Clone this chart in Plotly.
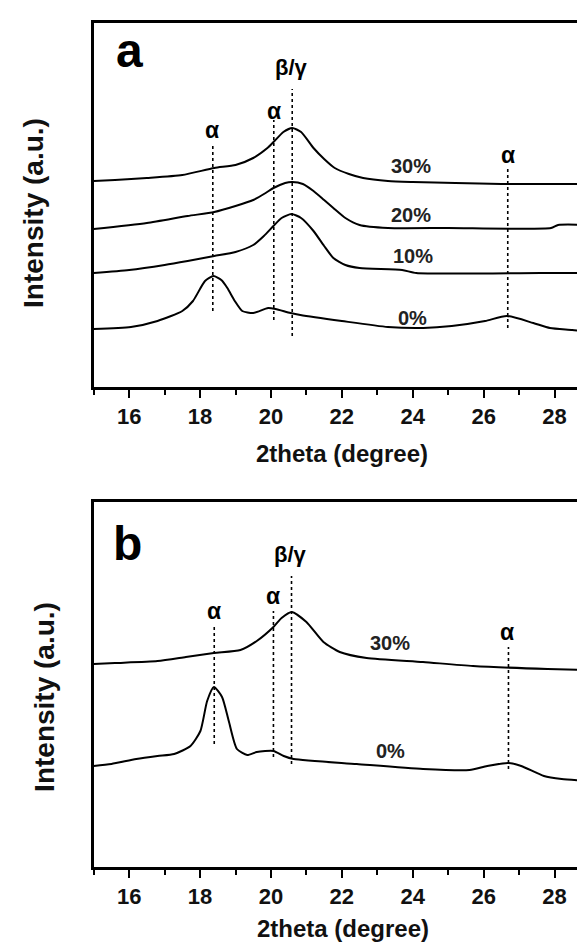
import plotly.graph_objects as go

# ---------------- data ----------------
# Panel a
a30_theta = [15.0, 15.6, 16.5, 17.5, 18.4, 19.0, 19.5, 19.9, 20.1, 20.35, 20.6, 20.85, 21.2, 21.5, 21.8, 22.2, 22.6, 23.3, 24.0, 25.2, 26.5, 29.0]
a30_int = [206, 207, 209, 212, 219, 222, 229, 239, 246, 255, 259, 255, 239, 228, 219, 213, 209, 206, 205, 204, 203, 203]

a20_theta = [15.0, 16.5, 17.65, 18.4, 19.0, 19.5, 19.85, 20.07, 20.4, 20.6, 20.9, 21.2, 21.5, 21.76, 22.1, 22.5, 23.3, 25.0, 27.9, 28.1, 29.0]
a20_int = [158, 164, 171, 175, 181, 187, 194, 199, 204, 205, 203, 196, 187, 179, 169, 162, 159, 159, 159, 162, 162]

a10_theta = [15.0, 16.0, 17.0, 17.65, 18.4, 19.0, 19.5, 19.8, 20.07, 20.3, 20.58, 20.85, 21.2, 21.5, 21.76, 22.1, 22.5, 23.7, 24.1, 27.6, 28.1, 29.0]
a10_int = [114, 117, 122, 126, 131, 135, 142, 151, 161, 169, 173, 169, 156, 141, 129, 122, 119, 117, 114, 114, 114, 114]

a0_theta = [15.0, 16.05, 16.8, 17.5, 17.8, 18.14, 18.38, 18.6, 18.77, 18.98, 19.19, 19.5, 19.92, 20.13, 20.55, 20.83, 22.0, 23.3, 24.3, 25.1, 26.04, 26.65, 27.4, 27.87, 28.5, 29.0]
a0_int = [58, 60, 66, 76, 86, 106, 111, 107, 99, 86, 76, 74, 79, 78, 74, 72, 66, 60, 59, 61, 66, 71, 64, 59, 57, 55]

# Panel b
b30_theta = [15.0, 15.6, 16.8, 17.6, 18.39, 19.14, 19.6, 20.07, 20.3, 20.59, 21.0, 21.48, 21.94, 22.7, 24.29, 25.7, 27.8, 29.0]
b30_int = [203, 204, 206, 210, 214, 217, 226, 240, 249, 255, 245, 225, 215, 209, 205, 201, 198, 197]

b0_theta = [15.0, 15.5, 16.2, 16.8, 17.27, 17.73, 18.01, 18.2, 18.39, 18.62, 18.81, 19.04, 19.33, 19.6, 20.07, 20.36, 20.64, 22.42, 24.29, 25.6, 26.1, 26.7, 27.06, 27.7, 28.2, 29.0]
b0_int = [101, 103, 108, 111, 113, 121, 136, 166, 180, 170, 146, 118, 112, 115, 116, 111, 108, 103, 98, 97, 101, 104, 101, 91, 88, 86]

# Peak marker lines: position, bottom, top
a_peak_pos = [18.36, 20.08, 20.6, 26.68]
a_peak_lo = [76, 67, 51, 59]
a_peak_hi = [244, 267, 298, 219]
b_peak_pos = [18.4, 20.07, 20.58, 26.7]
b_peak_lo = [123, 110, 103, 98]
b_peak_hi = [243, 256, 291, 220]

# Peak labels
peak_text = ["α", "α", "β/γ", "α"]
a_peak_lab_x = [18.35, 20.1, 20.57, 26.68]
a_peak_lab_y = [257, 276, 319, 232]
b_peak_lab_x = [18.4, 20.07, 20.55, 26.65]
b_peak_lab_y = [256, 271, 313, 235]

# Series labels
a_series_text = ["30%", "20%", "10%", "0%"]
a_series_x = [23.95, 23.95, 24.0, 24.0]
a_series_y = [221, 172, 131, 69]
b_series_text = ["30%", "0%"]
b_series_x = [23.35, 23.36]
b_series_y = [224, 116]

x_ticks = [16, 18, 20, 22, 24, 26, 28]
x_title = "2theta (degree)"
y_title = "Intensity (a.u.)"

# ---------------- figure ----------------
FONT = "Liberation Sans, Arial, sans-serif"
W, H = 585, 945
fig = go.Figure()

line_style = dict(color="black", width=2)

for th, it in [(a30_theta, a30_int), (a20_theta, a20_int), (a10_theta, a10_int), (a0_theta, a0_int)]:
    fig.add_trace(go.Scatter(x=th, y=it, mode="lines", line=dict(line_style, shape="spline", smoothing=0.6),
                             xaxis="x", yaxis="y", showlegend=False, hoverinfo="skip"))
for th, it in [(b30_theta, b30_int), (b0_theta, b0_int)]:
    fig.add_trace(go.Scatter(x=th, y=it, mode="lines", line=dict(line_style, shape="spline", smoothing=0.6),
                             xaxis="x2", yaxis="y2", showlegend=False, hoverinfo="skip"))

for pos, lo, hi in zip(a_peak_pos, a_peak_lo, a_peak_hi):
    fig.add_trace(go.Scatter(x=[pos, pos], y=[lo, hi], mode="lines",
                             line=dict(color="black", width=1.6, dash="dot"),
                             xaxis="x", yaxis="y", showlegend=False, hoverinfo="skip"))
for pos, lo, hi in zip(b_peak_pos, b_peak_lo, b_peak_hi):
    fig.add_trace(go.Scatter(x=[pos, pos], y=[lo, hi], mode="lines",
                             line=dict(color="black", width=1.6, dash="dot"),
                             xaxis="x2", yaxis="y2", showlegend=False, hoverinfo="skip"))


def txt(x, y, xref, yref, text, size, color="black", angle=0):
    return dict(x=x, y=y, xref=xref, yref=yref, text=text, showarrow=False,
                xanchor="center", yanchor="middle", textangle=angle, borderpad=0,
                font=dict(size=size, family=FONT, color=color, weight="bold"))


ann = []
for t, x, y in zip(peak_text, a_peak_lab_x, a_peak_lab_y):
    ann.append(txt(x, y, "x", "y", t, 23 if t == "α" else 22))
for t, x, y in zip(peak_text, b_peak_lab_x, b_peak_lab_y):
    ann.append(txt(x, y, "x2", "y2", t, 23 if t == "α" else 22))
for t, x, y in zip(a_series_text, a_series_x, a_series_y):
    ann.append(txt(x, y, "x", "y", t, 20, "#222"))
for t, x, y in zip(b_series_text, b_series_x, b_series_y):
    ann.append(txt(x, y, "x2", "y2", t, 20, "#222"))

# panel letters
ann.append(txt(122 / W, 1 - 43 / H, "paper", "paper", "a", 48))
ann.append(txt(120 / W, 1 - 535 / H, "paper", "paper", "b", 48))
# axis titles
ann.append(txt(25 / W, 1 - 205 / H, "paper", "paper", y_title, 28, "#111", -90))
ann.append(txt(36 / W, 1 - 689 / H, "paper", "paper", y_title, 28, "#111", -90))
ann.append(txt(335 / W, 1 - 445 / H, "paper", "paper", x_title, 24, "#111"))
ann.append(txt(336 / W, 1 - 920 / H, "paper", "paper", x_title, 24, "#111"))

xdom = [86 / W, 584 / W]
xax = dict(range=[15, 29], showline=True, linewidth=2.5, linecolor="black", mirror=True,
           ticks="outside", ticklen=8, tickwidth=2, tickcolor="black",
           tickmode="array", tickvals=x_ticks,
           tickfont=dict(size=22, family=FONT, color="#111", weight="bold"),
           minor=dict(dtick=1, tick0=15, ticks="outside", ticklen=5, tickwidth=2, tickcolor="black"),
           showgrid=False, zeroline=False, domain=xdom, fixedrange=True)
yax = dict(showline=True, linewidth=2.5, linecolor="black", mirror=True, ticks="",
           showticklabels=False, showgrid=False, zeroline=False, fixedrange=True)

fig.update_layout(
    width=W, height=H, margin=dict(l=0, r=0, t=0, b=0),
    paper_bgcolor="white", plot_bgcolor="white",
    xaxis=dict(xax, anchor="y"),
    yaxis=dict(yax, range=[0, 364], domain=[1 - 379 / H, 1 - 15 / H], anchor="x"),
    xaxis2=dict(xax, anchor="y2"),
    yaxis2=dict(yax, range=[0, 365], domain=[1 - 859 / H, 1 - 494 / H], anchor="x2"),
    annotations=ann,
    font=dict(family=FONT, color="black"),
)

fig.write_html("out.html")
